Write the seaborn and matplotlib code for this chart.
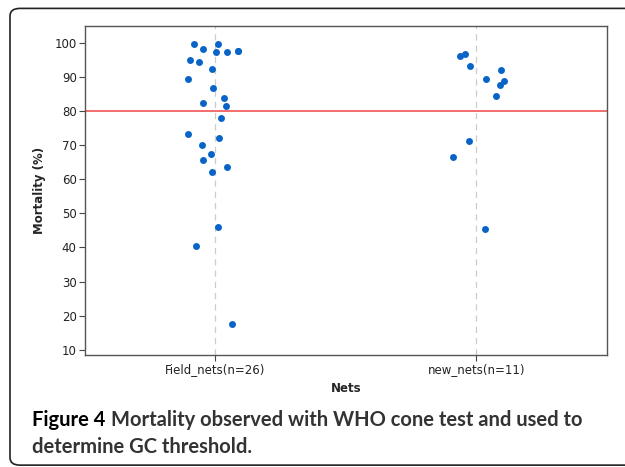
import numpy as np
import pandas as pd
import matplotlib
matplotlib.use("Agg")
import matplotlib.pyplot as plt
from matplotlib.patches import FancyBboxPatch
import seaborn as sns

# data
field_nets = [99.8, 97.2, 98.2, 97.2, 97.5, 97.6, 99.7, 94.4, 94.9, 92.2,
              89.3, 86.7, 83.7, 82.3, 81.5, 78.0, 73.3, 72.0, 70.0, 67.5,
              65.7, 63.5, 62.1, 40.4, 46.1, 17.5]
new_nets = [96.6, 96.2, 93.1, 92.1, 88.9, 89.3, 87.6, 84.4, 71.3, 66.6, 45.4]
labels = ["Field_nets(n=26)", "new_nets(n=11)"]
threshold = 80

df = pd.DataFrame({
    "Nets": [labels[0]] * len(field_nets) + [labels[1]] * len(new_nets),
    "Mortality": field_nets + new_nets,
})

sns.set_style("white")
plt.rcParams["font.family"] = ["DejaVu Sans"]

fig = plt.figure(figsize=(6.25, 4.67), dpi=100)
ax = fig.add_axes([0.136, 0.240, 0.835, 0.704])

# rounded frame around the whole figure
frame = FancyBboxPatch((0.016, 0.004), 1.1, 0.978, boxstyle="round,pad=0,rounding_size=0.016",
                       transform=fig.transFigure, fill=False, edgecolor="#222222",
                       linewidth=1.2, clip_on=False)
fig.patches.append(frame)

for i in range(len(labels)):
    ax.axvline(i, color="#cccccc", linestyle=(0, (5, 4)), linewidth=0.9, zorder=0)
ax.axhline(threshold, color="#f26d6d", linewidth=1.4, zorder=1)

np.random.seed(3)
sns.stripplot(data=df, x="Nets", y="Mortality", order=labels, jitter=0.11,
              color="#0a64c8", size=5, linewidth=0, ax=ax, zorder=3)

ax.set_xlim(-0.5, 1.5)
ax.set_ylim(8.5, 104.9)
ax.set_yticks(range(10, 101, 10))
ax.tick_params(axis="both", direction="out", length=4, width=0.8, color="#444444",
               labelsize=8.5, labelcolor="#222222", left=True, bottom=True, pad=2)
for s in ax.spines.values():
    s.set_color("#555555")
    s.set_linewidth(1.0)
ax.set_ylabel("Mortality (%)", fontsize=8.5, fontweight="bold", labelpad=6)
ax.set_xlabel("Nets", fontsize=8.5, fontweight="bold", labelpad=4)

cap_font = ["Lato", "DejaVu Sans"]
t1 = fig.text(0.051, 0.088, "Figure 4", fontsize=14.5, fontweight="bold", color="black",
              family=cap_font)
ax.annotate("Mortality observed with WHO cone test and used to", xy=(1, 0), xycoords=t1,
            xytext=(4, 0), textcoords="offset points", va="bottom", fontsize=14.5,
            fontweight="bold", color="#333333", family=cap_font, annotation_clip=False)
fig.text(0.051, 0.030, "determine GC threshold.", fontsize=14.5, fontweight="bold",
         color="#333333", family=cap_font)

fig.savefig("out.png", dpi=100)
